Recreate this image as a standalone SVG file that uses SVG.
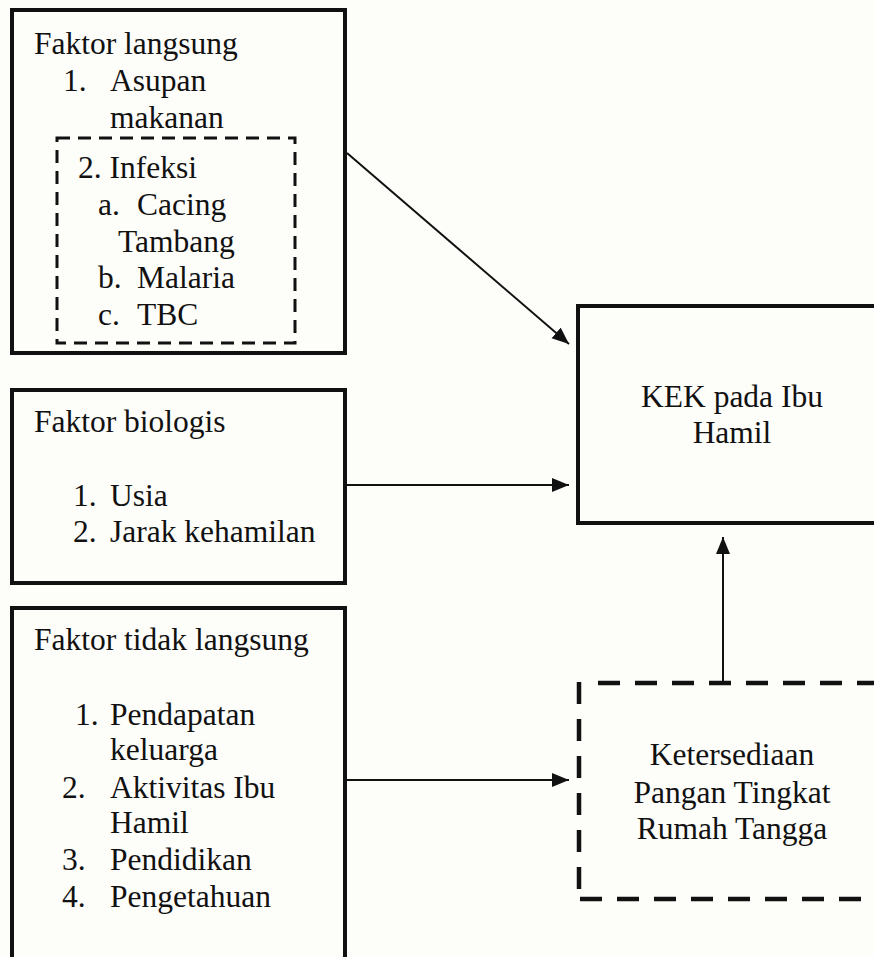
<svg xmlns="http://www.w3.org/2000/svg" width="874" height="957" viewBox="0 0 874 957">
<defs>
<style>
text{font-family:"Liberation Serif","Times New Roman",serif;font-size:31.5px;fill:#111;}
.c{text-anchor:middle;}
.box{fill:none;stroke:#111;stroke-width:4;}
.dash1{fill:none;stroke:#111;stroke-width:3;stroke-dasharray:13 8;}
.dash2{fill:none;stroke:#111;stroke-width:4.5;stroke-dasharray:22 15;}
.con{fill:none;stroke:#111;stroke-width:2;marker-end:url(#ah);}
</style>
<marker id="ah" markerUnits="userSpaceOnUse" markerWidth="20" markerHeight="16" refX="17" refY="7" orient="auto">
<path d="M0,0 L17,7 L0,14 Z" fill="#111"/>
</marker>
</defs>
<rect width="874" height="957" fill="#fdfdfa"/>
<g id="faktor-langsung">
<rect class="box" x="12" y="10" width="333" height="343"/>
<rect class="dash1" x="57" y="138" width="238" height="205"/>
<text x="34" y="54">Faktor langsung</text>
<text x="63" y="91">1.</text><text x="110" y="91">Asupan</text>
<text x="110" y="128">makanan</text>
<text x="78" y="178">2. Infeksi</text>
<text x="98" y="215">a.</text><text x="137" y="215">Cacing</text>
<text x="118" y="252">Tambang</text>
<text x="98" y="288">b.</text><text x="137" y="288">Malaria</text>
<text x="98" y="325">c.</text><text x="137" y="325">TBC</text>
</g>
<g id="faktor-biologis">
<rect class="box" x="12" y="390" width="333" height="193"/>
<text x="34" y="432">Faktor biologis</text>
<text x="73" y="506">1.</text><text x="110" y="506">Usia</text>
<text x="73" y="542">2.</text><text x="110" y="542">Jarak kehamilan</text>
</g>
<g id="faktor-tidak-langsung">
<rect class="box" x="12" y="608" width="333" height="370"/>
<text x="34" y="650">Faktor tidak langsung</text>
<text x="75" y="725">1.</text><text x="110" y="725">Pendapatan</text>
<text x="110" y="760">keluarga</text>
<text x="62" y="798">2.</text><text x="110" y="798">Aktivitas Ibu</text>
<text x="110" y="833">Hamil</text>
<text x="62" y="870">3.</text><text x="110" y="870">Pendidikan</text>
<text x="62" y="907">4.</text><text x="110" y="907">Pengetahuan</text>
</g>
<g id="kek">
<rect class="box" x="578" y="306" width="330" height="217"/>
<text class="c" x="732" y="407">KEK pada Ibu</text>
<text class="c" x="732" y="443">Hamil</text>
</g>
<g id="ketersediaan">
<line class="dash2" x1="579" y1="682" x2="579" y2="900"/>
<line class="dash2" x1="598" y1="683" x2="900" y2="683"/>
<line class="dash2" x1="580" y1="899" x2="900" y2="899"/>
<text class="c" x="732" y="765">Ketersediaan</text>
<text class="c" x="732" y="803">Pangan Tingkat</text>
<text class="c" x="732" y="839">Rumah Tangga</text>
</g>
<g id="connectors">
<line class="con" x1="347" y1="153" x2="569" y2="344"/>
<line class="con" x1="347" y1="485" x2="569" y2="485"/>
<line class="con" x1="347" y1="780" x2="569" y2="780"/>
<line class="con" x1="723" y1="683" x2="723" y2="537"/>
</g>
</svg>
